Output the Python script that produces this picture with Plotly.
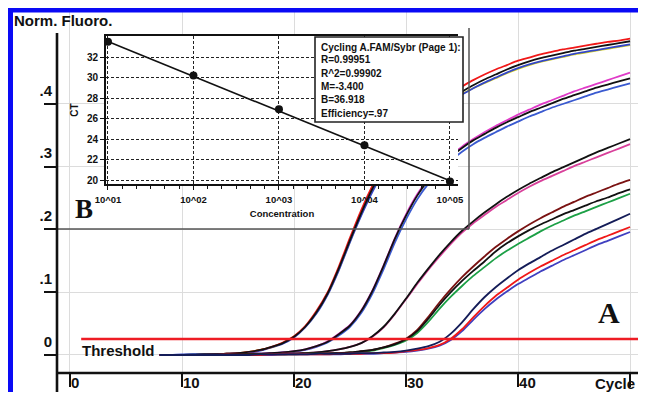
import plotly.graph_objects as go

# The page body keeps the browser's 8px margin, so the figure is 630x384 and
# every position below is given in window pixels and converted with OFF.
WIN_W, WIN_H = 646, 400
OFF = 8
W, H = WIN_W - 2 * OFF, WIN_H - 2 * OFF

# ---------------- main amplification data (Norm. Fluoro. per cycle) ----------------
cycles = list(range(8, 51))

g1_yellow = [0, 0, 0, 0, 0.001, 0.001, 0.002, 0.003, 0.005, 0.008,
             0.012, 0.019, 0.029, 0.045, 0.067, 0.097, 0.136, 0.181, 0.224, 0.262,
             0.295, 0.323, 0.346, 0.366, 0.382, 0.395, 0.406, 0.416, 0.425, 0.433,
             0.441, 0.449, 0.456, 0.462, 0.467, 0.471, 0.475, 0.479, 0.482, 0.485,
             0.488, 0.491, 0.494]
g1_blue = [0, 0, 0.001, 0.001, 0.001, 0.001, 0.002, 0.003, 0.004, 0.007,
           0.012, 0.018, 0.028, 0.044, 0.066, 0.096, 0.135, 0.18, 0.222, 0.26,
           0.293, 0.322, 0.345, 0.365, 0.381, 0.394, 0.405, 0.415, 0.425, 0.434,
           0.442, 0.45, 0.457, 0.463, 0.468, 0.472, 0.476, 0.48, 0.483, 0.486,
           0.489, 0.492, 0.495]
g1_red = [0, 0, 0, 0, 0.001, 0.001, 0.002, 0.003, 0.005, 0.008,
          0.013, 0.02, 0.03, 0.046, 0.07, 0.1, 0.141, 0.187, 0.231, 0.27,
          0.304, 0.333, 0.356, 0.376, 0.393, 0.406, 0.418, 0.428, 0.438, 0.447,
          0.455, 0.462, 0.469, 0.474, 0.479, 0.483, 0.487, 0.49, 0.493, 0.496,
          0.499, 0.501, 0.504]
g1_black = [0, 0, 0, 0.001, 0.001, 0.001, 0.002, 0.003, 0.005, 0.008,
            0.013, 0.019, 0.029, 0.045, 0.068, 0.098, 0.138, 0.183, 0.226, 0.265,
            0.298, 0.327, 0.35, 0.37, 0.386, 0.399, 0.41, 0.42, 0.43, 0.439,
            0.447, 0.455, 0.462, 0.468, 0.473, 0.477, 0.481, 0.485, 0.488, 0.491,
            0.494, 0.497, 0.5]

g2_blue = [0, 0, 0, 0.001, 0.001, 0.001, 0.001, 0.001, 0.002, 0.002,
           0.003, 0.004, 0.005, 0.008, 0.013, 0.02, 0.031, 0.045, 0.067, 0.098,
           0.137, 0.179, 0.216, 0.248, 0.273, 0.293, 0.31, 0.324, 0.336, 0.346,
           0.355, 0.364, 0.372, 0.38, 0.387, 0.394, 0.4, 0.406, 0.412, 0.418,
           0.423, 0.428, 0.433]
g2_magenta = [0, 0, 0, 0, 0, 0.001, 0.001, 0.001, 0.002, 0.002,
              0.003, 0.004, 0.006, 0.009, 0.014, 0.022, 0.034, 0.048, 0.071, 0.103,
              0.143, 0.186, 0.224, 0.256, 0.281, 0.301, 0.318, 0.332, 0.344, 0.355,
              0.365, 0.374, 0.383, 0.391, 0.399, 0.406, 0.413, 0.42, 0.426, 0.432,
              0.438, 0.444, 0.45]
g2_black = [0, 0, 0, 0, 0.001, 0.001, 0.001, 0.001, 0.002, 0.002,
            0.003, 0.004, 0.006, 0.009, 0.014, 0.021, 0.033, 0.047, 0.07, 0.102,
            0.142, 0.185, 0.222, 0.254, 0.279, 0.299, 0.316, 0.33, 0.342, 0.352,
            0.362, 0.371, 0.379, 0.387, 0.394, 0.401, 0.408, 0.414, 0.42, 0.426,
            0.431, 0.436, 0.441]

g3_pink = [0, 0, 0, 0, 0, 0, 0.001, 0.001, 0.001, 0.001,
           0.001, 0.002, 0.002, 0.003, 0.004, 0.006, 0.009, 0.013, 0.019, 0.029,
           0.044, 0.065, 0.089, 0.113, 0.136, 0.157, 0.177, 0.195, 0.21, 0.223,
           0.236, 0.247, 0.258, 0.268, 0.277, 0.285, 0.293, 0.301, 0.308, 0.315,
           0.322, 0.329, 0.336]
g3_black = [0, 0, 0, 0, 0, 0.001, 0.001, 0.001, 0.001, 0.001,
            0.002, 0.002, 0.002, 0.003, 0.004, 0.006, 0.009, 0.013, 0.019, 0.03,
            0.045, 0.066, 0.09, 0.115, 0.138, 0.16, 0.18, 0.198, 0.213, 0.227,
            0.24, 0.252, 0.263, 0.273, 0.282, 0.291, 0.299, 0.307, 0.315, 0.323,
            0.33, 0.337, 0.344]

g4_green = [0, 0, 0, 0, 0, 0, 0, 0, 0.001, 0.001,
            0.001, 0.001, 0.001, 0.002, 0.002, 0.002, 0.003, 0.004, 0.005, 0.007,
            0.011, 0.016, 0.023, 0.035, 0.053, 0.074, 0.093, 0.11, 0.126, 0.14,
            0.154, 0.166, 0.177, 0.187, 0.197, 0.206, 0.214, 0.222, 0.229, 0.236,
            0.243, 0.25, 0.257]
g4_darkred = [0, 0, 0, 0, 0, 0, 0.001, 0.001, 0.001, 0.001,
              0.001, 0.002, 0.002, 0.002, 0.002, 0.003, 0.003, 0.004, 0.006, 0.008,
              0.012, 0.018, 0.026, 0.04, 0.061, 0.084, 0.105, 0.124, 0.141, 0.157,
              0.172, 0.185, 0.197, 0.208, 0.218, 0.227, 0.236, 0.244, 0.252, 0.259,
              0.266, 0.273, 0.279]
g4_black = [0, 0, 0, 0, 0, 0, 0, 0.001, 0.001, 0.001,
            0.001, 0.001, 0.002, 0.002, 0.002, 0.002, 0.003, 0.004, 0.006, 0.008,
            0.012, 0.017, 0.025, 0.038, 0.058, 0.08, 0.1, 0.118, 0.134, 0.149,
            0.165, 0.178, 0.189, 0.199, 0.208, 0.216, 0.224, 0.231, 0.238, 0.245,
            0.251, 0.258, 0.264]

g5_blue = [0, 0, 0, 0, 0, 0, 0, 0, 0, 0,
           0, 0.001, 0.001, 0.001, 0.001, 0.001, 0.001, 0.002, 0.002, 0.002,
           0.003, 0.004, 0.005, 0.007, 0.01, 0.015, 0.024, 0.038, 0.056, 0.073,
           0.088, 0.101, 0.113, 0.123, 0.133, 0.142, 0.151, 0.159, 0.167, 0.175,
           0.182, 0.189, 0.196]
g5_red = [0, 0, 0, 0, 0, 0, 0, 0, 0, 0,
          0.001, 0.001, 0.001, 0.001, 0.001, 0.001, 0.002, 0.002, 0.002, 0.003,
          0.003, 0.004, 0.006, 0.008, 0.011, 0.016, 0.026, 0.041, 0.06, 0.078,
          0.094, 0.107, 0.12, 0.131, 0.141, 0.15, 0.159, 0.167, 0.175, 0.183,
          0.19, 0.197, 0.204]
g5_navy = [0, 0, 0, 0, 0, 0, 0, 0, 0, 0.001,
           0.001, 0.001, 0.001, 0.001, 0.002, 0.002, 0.002, 0.002, 0.003, 0.003,
           0.004, 0.005, 0.007, 0.01, 0.014, 0.021, 0.034, 0.052, 0.073, 0.092,
           0.108, 0.122, 0.135, 0.146, 0.156, 0.166, 0.175, 0.184, 0.193, 0.201,
           0.209, 0.217, 0.225]

threshold_level = 0.0255
threshold_span = [1, 52]

main_ticks = [0, 10, 20, 30, 40, 50]
main_tick_text = ["0", "10", "20", "30", "40", ""]
fluor_ticks = [0, 0.1, 0.2, 0.3, 0.4]
fluor_tick_text = ["0", ".1", ".2", ".3", ".4"]

# ---------------- inset standard curve ----------------
conc_exponents = [1, 2, 3, 4, 5]
conc_tick_text = ["10^01", "10^02", "10^03", "10^04", "10^05"]
ct_values = [33.5, 30.2, 26.9, 23.4, 19.85]
ct_ticks = [20, 22, 24, 26, 28, 30, 32]
fit_slope = -3.400
fit_intercept = 36.918
stats_lines = ["Cycling A.FAM/Sybr (Page 1):", "R=0.99951", "R^2=0.99902",
               "M=-3.400", "B=36.918", "Efficiency=.97"]


# ---------------- helpers (window pixels -> paper fractions) ----------------
def px(x):
    return (x - OFF) / W


def py(y):
    return 1 - (y - OFF) / H


SANS = "Liberation Sans, Arial, sans-serif"
SERIF = "Liberation Serif, Times New Roman, serif"
INK = "#111111"

fig = go.Figure()

series = [
    (g1_yellow, "#d6d220"), (g1_blue, "#3346c8"), (g1_red, "#f01818"), (g1_black, INK),
    (g2_blue, "#3a5ad0"), (g2_magenta, "#e03cc8"), (g2_black, INK),
    (g3_pink, "#d8409a"), (g3_black, INK),
    (g4_green, "#1ca046"), (g4_darkred, "#7a1212"), (g4_black, INK),
    (g5_blue, "#4040c0"), (g5_red, "#f01818"), (g5_navy, "#141c58"),
]
for vals, col in series:
    fig.add_trace(go.Scatter(
        x=cycles, y=vals, mode="lines", xaxis="x", yaxis="y",
        line=dict(color=col, width=1.8, shape="spline", smoothing=0.6),
        hoverinfo="skip", showlegend=False))

fig.add_trace(go.Scatter(
    x=threshold_span, y=[threshold_level] * len(threshold_span), mode="lines",
    xaxis="x", yaxis="y", line=dict(color="#ee1c24", width=2.6),
    hoverinfo="skip", showlegend=False))

# inset traces
fit_x = [conc_exponents[0], conc_exponents[-1]]
fit_y = [fit_intercept + fit_slope * v for v in fit_x]
fig.add_trace(go.Scatter(
    x=fit_x, y=fit_y, mode="lines", xaxis="x3", yaxis="y3",
    line=dict(color=INK, width=1.6), hoverinfo="skip", showlegend=False))
fig.add_trace(go.Scatter(
    x=conc_exponents, y=ct_values, mode="markers", xaxis="x3", yaxis="y3",
    marker=dict(color=INK, size=8), cliponaxis=False,
    hoverinfo="skip", showlegend=False))

tick_font = dict(family=SANS, size=15, color=INK, weight=700)

fig.update_layout(
    width=W, height=H, autosize=False,
    margin=dict(l=0, r=0, t=0, b=0, pad=0),
    paper_bgcolor="white", plot_bgcolor="white",
    showlegend=False,
    xaxis=dict(
        domain=[px(57), 1], range=[-1.16, 50.71], anchor="y", automargin=False,
        tickmode="array", tickvals=main_ticks, ticktext=main_tick_text,
        ticks="outside", ticklen=13, tickwidth=2, tickcolor=INK,
        ticklabelposition="outside right", ticklabelstandoff=-4,
        tickfont=tick_font, showgrid=True, gridcolor="#dcdcdc", gridwidth=1,
        zeroline=False, showline=False),
    yaxis=dict(
        domain=[py(373), py(12)], range=[-0.0287, 0.5466], anchor="x", automargin=False,
        tickmode="array", tickvals=fluor_ticks, ticktext=fluor_tick_text,
        ticks="outside", ticklen=12, tickwidth=2, tickcolor=INK,
        ticklabelposition="outside top", ticklabelstandoff=1, ticklabelshift=-2,
        tickfont=tick_font, showgrid=True, gridcolor="#dcdcdc", gridwidth=1,
        zeroline=False, showline=False),
    xaxis2=dict(
        domain=[px(57), px(469)], range=[0, 1], anchor="y2", automargin=False,
        showgrid=False, zeroline=False, showline=False, ticks="",
        showticklabels=False, fixedrange=True),
    yaxis2=dict(
        domain=[py(229), py(28)], range=[0, 1], anchor="x2", automargin=False,
        showgrid=False, zeroline=False, showline=False, ticks="",
        showticklabels=False, fixedrange=True),
    xaxis3=dict(
        domain=[px(106), px(458)], range=[0.977, 5.094], anchor="y3", automargin=False,
        tickmode="array", tickvals=conc_exponents, ticktext=conc_tick_text,
        ticks="outside", ticklen=4, tickwidth=1.2, tickcolor=INK,
        ticklabelstandoff=2,
        tickfont=dict(family=SANS, size=9.5, color=INK, weight=700),
        showline=True, linecolor=INK, linewidth=2, mirror=True,
        showgrid=True, gridcolor="#222222", gridwidth=1.2, griddash="3px,2px",
        zeroline=False,
        minor=dict(dtick=1 / 6, tick0=1, ticks="outside", ticklen=3,
                   tickwidth=1, tickcolor=INK, showgrid=False),
        title=dict(text="Concentration", standoff=6,
                   font=dict(family=SANS, size=9.5, color=INK, weight=700))),
    yaxis3=dict(
        domain=[py(184), py(36)], range=[19.61, 34.05], anchor="x3", automargin=False,
        tickmode="array", tickvals=ct_ticks,
        ticks="outside", ticklen=4, tickwidth=1.2, tickcolor=INK,
        tickfont=dict(family=SANS, size=10, color=INK, weight=700),
        showline=True, linecolor=INK, linewidth=2,
        showgrid=True, gridcolor="#222222", gridwidth=1.2, griddash="3px,2px",
        zeroline=False,
        title=dict(text="CT", standoff=6,
                   font=dict(family=SANS, size=10, color=INK, weight=700))),
)

shapes = [
    # inset outer frame (right and bottom)
    dict(type="line", xref="paper", yref="paper", x0=px(469), x1=px(469),
         y0=py(28), y1=py(229), line=dict(color="#555555", width=1.5), layer="above"),
    dict(type="line", xref="paper", yref="paper", x0=px(57), x1=px(469),
         y0=py(229), y1=py(229), line=dict(color="#555555", width=1.5), layer="above"),
    # stats box
    dict(type="rect", xref="paper", yref="paper", x0=px(315), x1=px(463),
         y0=py(122), y1=py(37), fillcolor="white",
         line=dict(color="#222222", width=1.6), layer="above"),
    # main axis lines
    dict(type="line", xref="paper", yref="paper", x0=px(57), x1=px(57),
         y0=py(33), y1=py(400), line=dict(color=INK, width=2.6), layer="above"),
    dict(type="line", xref="paper", yref="paper", x0=px(57), x1=1,
         y0=py(373), y1=py(373), line=dict(color=INK, width=2.6), layer="above"),
    # blue frame
    dict(type="rect", xref="paper", yref="paper", x0=px(8), x1=px(13),
         y0=py(400), y1=py(7), fillcolor="#0a0af5", line=dict(width=0), layer="above"),
    dict(type="rect", xref="paper", yref="paper", x0=px(8), x1=1,
         y0=py(12.5), y1=py(7), fillcolor="#0a0af5", line=dict(width=0), layer="above"),
]
fig.update_layout(shapes=shapes)

big_font = dict(family=SANS, size=15, color=INK, weight=700)
annotations = [
    dict(text="Norm. Fluoro.", x=px(13), y=py(21), xanchor="left", yanchor="middle",
         font=big_font),
    dict(text="Threshold", x=px(81), y=py(350), xanchor="left", yanchor="middle",
         font=big_font),
    dict(text="Cycle", x=px(636), y=py(383), xanchor="right", yanchor="middle",
         font=big_font),
    dict(text="B", x=px(84), y=py(209), xanchor="center", yanchor="middle",
         font=dict(family=SERIF, size=27, color=INK, weight=700)),
    dict(text="A", x=px(609), y=py(312), xanchor="center", yanchor="middle",
         font=dict(family=SERIF, size=30, color=INK, weight=700)),
]
line_y = [47, 60, 73, 86, 99.5, 113]
for txt, yy in zip(stats_lines, line_y):
    annotations.append(dict(
        text=txt, x=px(320), y=py(yy), xanchor="left", yanchor="middle",
        font=dict(family=SANS, size=10, color=INK, weight=700)))
for a in annotations:
    a.update(xref="paper", yref="paper", showarrow=False, borderpad=0)
fig.update_layout(annotations=annotations)

fig.write_html("out.html")
